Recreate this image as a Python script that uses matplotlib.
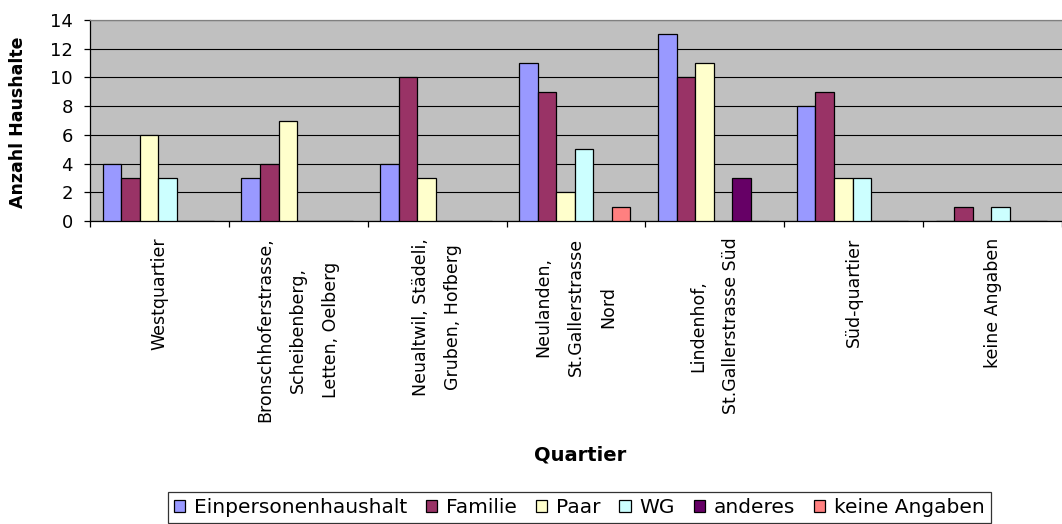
import numpy as np
import matplotlib
matplotlib.use("Agg")
import matplotlib.pyplot as plt

categories = [
    "Westquartier",
    "Bronschhoferstrasse,\nScheibenberg,\nLetten, Oelberg",
    "Neualtwil, Städeli,\nGruben, Hofberg",
    "Neulanden,\nSt.Gallerstrasse\nNord",
    "Lindenhof,\nSt.Gallerstrasse Süd",
    "Süd-quartier",
    "keine Angaben",
]
series_names = ["Einpersonenhaushalt", "Familie", "Paar", "WG", "anderes", "keine Angaben"]
einpersonen = [4, 3, 4, 11, 13, 8, 0]
familie = [3, 4, 10, 9, 10, 9, 1]
paar = [6, 7, 3, 2, 11, 3, 0]
wg = [3, 0, 0, 5, 0, 3, 1]
anderes = [0, 0, 0, 0, 3, 0, 0]
keine_angaben = [0, 0, 0, 1, 0, 0, 0]
series_values = [einpersonen, familie, paar, wg, anderes, keine_angaben]
colors = ["#9999FF", "#993366", "#FFFFCC", "#CCFFFF", "#660066", "#FF8080"]
yticks = [0, 2, 4, 6, 8, 10, 12, 14]

W, H = 1062, 524
fig = plt.figure(figsize=(W / 100, H / 100), dpi=100)
ax_left, ax_bottom, ax_top = 90, 221, 20
ax = fig.add_axes([ax_left / W, 1 - ax_bottom / H, 1 - ax_left / W, (ax_bottom - ax_top) / H])
ax.set_facecolor("#C0C0C0")

cat_px = 140.33
x = np.arange(len(categories))
bw = 18.75 / cat_px
start = -0.5 + 12.7 / cat_px
for j, (name, vals, c) in enumerate(zip(series_names, series_values, colors)):
    ax.bar(x + start + bw * (j + 0.5), vals, width=bw, color=c, edgecolor="black",
           linewidth=0.9, label=name, zorder=3)

ax.set_ylim(0, 14)
ax.set_xlim(-0.5, -0.5 + (W - ax_left) / cat_px)
ax.set_yticks(yticks)
ax.set_yticklabels([str(v) for v in yticks], fontsize=13)
ax.yaxis.grid(True, color="black", linewidth=0.8, zorder=1)
ax.set_axisbelow(True)

ax.set_xticks(x)
ax.set_xticklabels(categories, rotation=90, fontsize=12.5, linespacing=2.04,
                   ha="center", va="top", multialignment="center")
ax.set_xticks(np.arange(-0.5, len(categories) + 0.5, 1), minor=True)
ax.tick_params(axis="x", which="major", length=0, pad=12)
ax.tick_params(axis="x", which="minor", length=4.3, width=0.9, direction="out", color="black")
ax.tick_params(axis="y", length=4.3, width=0.9, direction="out", pad=8, color="black")

for s in ["left", "bottom"]:
    ax.spines[s].set_color("black")
    ax.spines[s].set_linewidth(0.9)
ax.spines["top"].set_color("#808080")
ax.spines["top"].set_linewidth(0.9)
ax.spines["right"].set_visible(False)

ax.set_ylabel("Anzahl Haushalte", fontsize=12.5, fontweight="bold", va="center")
ax.yaxis.set_label_coords((18.5 - ax_left) / (W - ax_left), 0.5 - 1.5 / (ax_bottom - ax_top))
ax.set_xlabel("Quartier", fontsize=14, fontweight="bold", va="center")
ax.xaxis.set_label_coords((580 - ax_left) / (W - ax_left), (ax_bottom - 455) / (ax_bottom - ax_top))

leg = fig.legend(loc="upper center", bbox_to_anchor=(579.5 / W, 1 - 492 / H), ncol=6,
                 fontsize=14.5, frameon=True, fancybox=False, shadow=False,
                 handlelength=0.55, handleheight=0.55, handletextpad=0.45,
                 columnspacing=0.93, borderpad=0.3, borderaxespad=0)
leg.get_frame().set_edgecolor("black")
leg.get_frame().set_linewidth(0.9)
leg.get_frame().set_facecolor("white")

fig.savefig("out.png", dpi=100, facecolor="white")
